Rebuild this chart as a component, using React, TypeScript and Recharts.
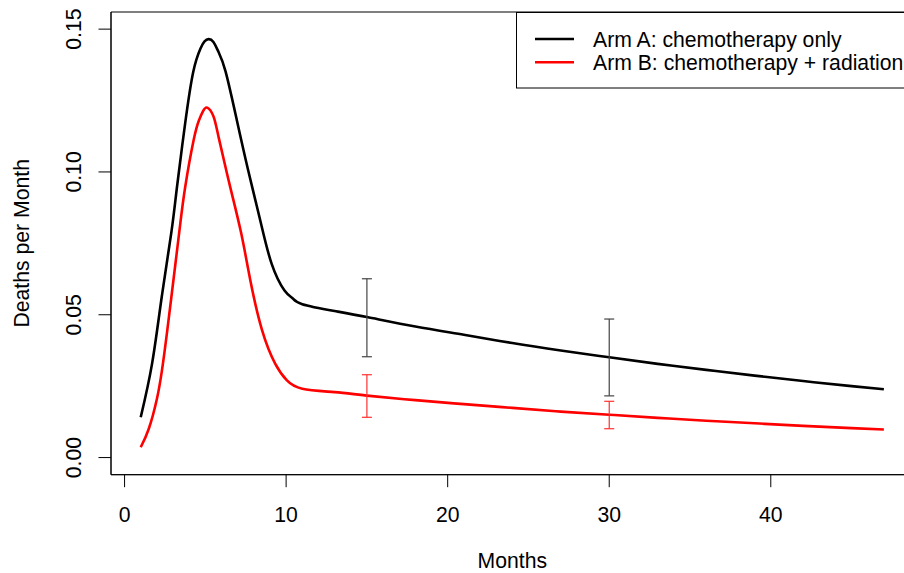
import React from 'react';
import { ComposedChart, Line, Scatter, ErrorBar, XAxis, YAxis, ReferenceArea } from 'recharts';

const seriesNames = ['Arm A: chemotherapy only', 'Arm B: chemotherapy + radiation'];
const seriesColors = ['#000000', '#ff0000'];

const armAMonths = [1, 1.7, 2.3, 2.9, 3.25, 3.75, 4.25, 4.7, 4.95, 5.2, 5.5, 5.8, 6.25, 6.95, 7.65, 8.4, 9.1, 9.9, 10.4, 11, 13, 15, 18, 21, 24, 27, 30, 33, 36, 39, 42, 45, 47];
const armARate = [0.0141, 0.0328, 0.0562, 0.079, 0.095, 0.117, 0.135, 0.1432, 0.1457, 0.1465, 0.1455, 0.1422, 0.1352, 0.1181, 0.1006, 0.083, 0.0679, 0.0585, 0.0558, 0.0537, 0.0513, 0.0492, 0.0459, 0.043, 0.0401, 0.0375, 0.0351, 0.0328, 0.0307, 0.0287, 0.0268, 0.025, 0.0239];

const armBMonths = [1, 1.5, 2.0, 2.3, 2.62, 3.14, 3.45, 3.76, 4.27, 4.6, 4.85, 5.12, 5.5, 5.82, 6.54, 7.22, 7.78, 8.5, 9.33, 10.05, 11, 13, 15, 18, 21, 24, 27, 30, 33, 36, 39, 42, 45, 47];
const armBRate = [0.0036, 0.0101, 0.0205, 0.03, 0.0435, 0.0675, 0.082, 0.095, 0.111, 0.118, 0.1212, 0.1225, 0.1195, 0.1122, 0.0947, 0.0785, 0.0622, 0.0448, 0.0328, 0.027, 0.0241, 0.0229, 0.0217, 0.0201, 0.0187, 0.0174, 0.0161, 0.015, 0.0139, 0.0129, 0.012, 0.0111, 0.0103, 0.0098];

const errMonths = [15, 30];
const armAEst = [0.0492, 0.0351];
const armALow = [0.0353, 0.0216];
const armAHigh = [0.0626, 0.0485];
const armBEst = [0.0217, 0.015];
const armBLow = [0.0141, 0.0101];
const armBHigh = [0.029, 0.0197];

const xTicks = [0, 10, 20, 30, 40];
const yTicks = [0, 0.05, 0.1, 0.15];
const xDomain = [-0.84, 48.84];
const yDomain = [-0.006, 0.156];

const armAData = armAMonths.map((x, i) => ({ x, y: armARate[i] }));
const armBData = armBMonths.map((x, i) => ({ x, y: armBRate[i] }));
const armAErr = errMonths.map((x, i) => ({ x, y: armAEst[i], err: [armAEst[i] - armALow[i], armAHigh[i] - armAEst[i]] }));
const armBErr = errMonths.map((x, i) => ({ x, y: armBEst[i], err: [armBEst[i] - armBLow[i], armBHigh[i] - armBEst[i]] }));

const FONT = '"Liberation Sans", Arial, Helvetica, sans-serif';
const FS = 21.2;

const YTick = (props: any) => {
  const { y, payload } = props;
  const tx = 81.5;
  return (
    <text x={tx} y={y} transform={`rotate(-90, ${tx}, ${y})`} textAnchor="middle" fontFamily={FONT} fontSize={FS} fill="#000">
      {Number(payload.value).toFixed(2)}
    </text>
  );
};

export default function App() {
  return (
    <div style={{ position: 'fixed', left: 0, top: 0, width: 904, height: 573, overflow: 'hidden', background: '#fff' }}>
      <ComposedChart width={930} height={573} margin={{ top: 12, right: 16.4, left: 51, bottom: 38.3 }}>
        <XAxis
          type="number"
          dataKey="x"
          domain={xDomain}
          ticks={xTicks}
          allowDataOverflow
          interval={0}
          height={60}
          tickSize={12.5}
          tickMargin={20}
          axisLine={{ stroke: '#000' }}
          tickLine={{ stroke: '#000' }}
          tick={{ fill: '#000', fontFamily: FONT, fontSize: FS }}
        />
        <YAxis
          type="number"
          dataKey="y"
          domain={yDomain}
          ticks={yTicks}
          allowDataOverflow
          interval={0}
          width={60}
          tickSize={12.5}
          axisLine={{ stroke: '#000' }}
          tickLine={{ stroke: '#000' }}
          tick={<YTick />}
        />
        <ReferenceArea x1={xDomain[0]} x2={xDomain[1]} y1={yDomain[0]} y2={yDomain[1]} fill="none" stroke="#000" strokeWidth={1} ifOverflow="visible" />
        <Line data={armAData} dataKey="y" type="natural" stroke={seriesColors[0]} strokeWidth={2.6} dot={false} isAnimationActive={false} name={seriesNames[0]} />
        <Line data={armBData} dataKey="y" type="natural" stroke={seriesColors[1]} strokeWidth={2.6} dot={false} isAnimationActive={false} name={seriesNames[1]} />
        <Scatter data={armAErr} dataKey="y" shape={() => <g />} isAnimationActive={false}>
          <ErrorBar dataKey="err" direction="y" width={5} stroke="#444" strokeWidth={1.2} isAnimationActive={false} />
        </Scatter>
        <Scatter data={armBErr} dataKey="y" shape={() => <g />} isAnimationActive={false}>
          <ErrorBar dataKey="err" direction="y" width={5} stroke="#ff3030" strokeWidth={1.2} isAnimationActive={false} />
        </Scatter>
      </ComposedChart>
      <svg width={904} height={573} style={{ position: 'absolute', left: 0, top: 0, pointerEvents: 'none' }}>
        <text x={512.3} y={568} textAnchor="middle" fontFamily={FONT} fontSize={FS} fill="#000">Months</text>
        <text x={29.5} y={243.3} transform="rotate(-90, 29.5, 243.3)" textAnchor="middle" fontFamily={FONT} fontSize={FS} fill="#000">Deaths per Month</text>
        <rect x={516.5} y={12.5} width={420} height={75.5} fill="#fff" stroke="#000" strokeWidth={1} />
        {seriesNames.map((n, i) => (
          <g key={n}>
            <line x1={535} x2={574} y1={39 + i * 23.3} y2={39 + i * 23.3} stroke={seriesColors[i]} strokeWidth={2.6} />
            <text x={593} y={46.5 + i * 23.3} fontFamily={FONT} fontSize={FS} fill="#000">{n}</text>
          </g>
        ))}
      </svg>
    </div>
  );
}
